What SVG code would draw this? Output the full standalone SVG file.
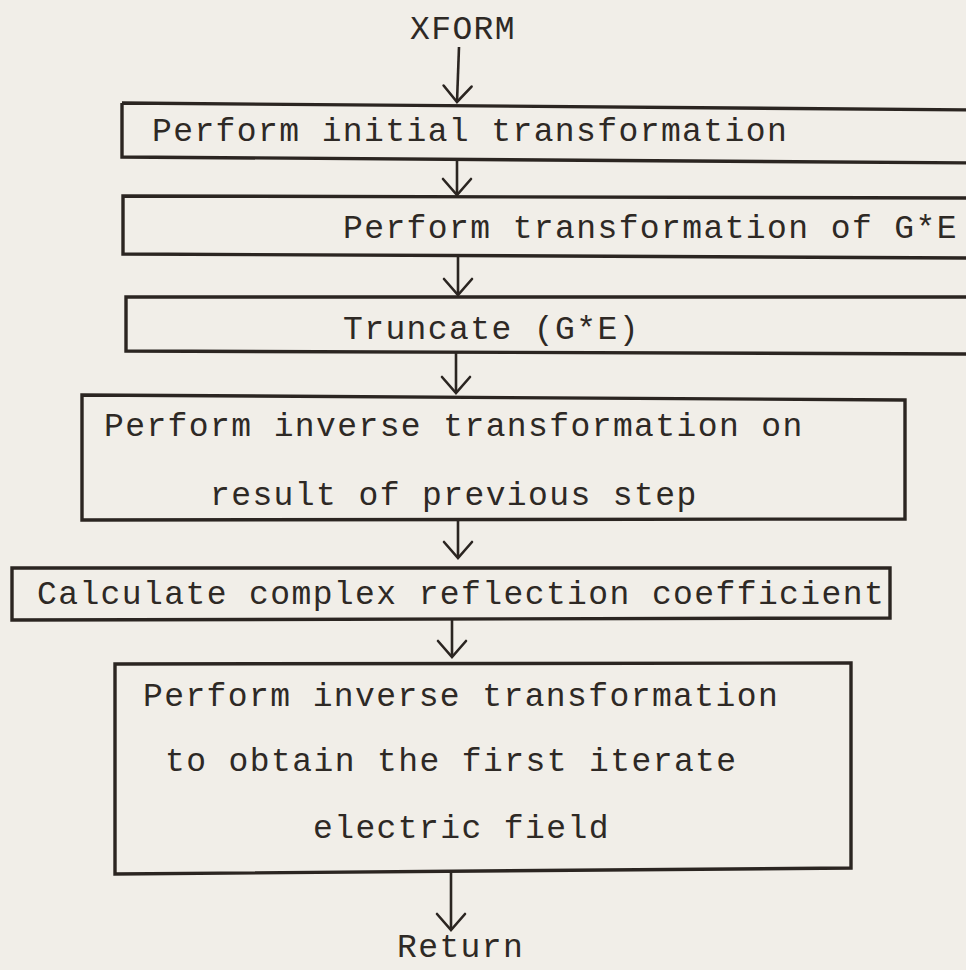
<svg xmlns="http://www.w3.org/2000/svg" width="966" height="970" viewBox="0 0 966 970">
<style>
.bg{fill:#f1eee8}
.box{fill:none;stroke:#2b2521;stroke-width:3.4;stroke-linejoin:miter}
.t{font-family:"Liberation Mono","Courier New",monospace;font-size:33px;letter-spacing:1.4px;fill:#2e2925}
.c{fill:none;stroke:#2b2521;stroke-width:2.6}
</style>
<defs>
<marker id="v" markerUnits="userSpaceOnUse" markerWidth="40" markerHeight="40" refX="0" refY="0" viewBox="-20 -20 40 40" orient="auto" overflow="visible">
<path d="M-16,-14 L0,0 L-16,14" fill="none" stroke="#2b2521" stroke-width="2.6" stroke-linecap="round" stroke-linejoin="miter"/>
</marker>
</defs>
<rect class="bg" x="0" y="0" width="966" height="970"/>
<g id="start">
<text class="t" x="410" y="39">XFORM</text>
</g>
<g id="n1">
<path class="box" d="M122,103 L980,110 M122,103 L122,157 L980,163"/>
<text class="t" x="152" y="141">Perform initial transformation</text>
</g>
<g id="n2">
<path class="box" d="M980,198 L123,196 L123,254 L980,258"/>
<text class="t" x="343" y="238">Perform transformation of G*E</text>
</g>
<g id="n3">
<path class="box" d="M980,297 L126,297 L126,351 L980,354"/>
<text class="t" x="343" y="339">Truncate (G*E)</text>
</g>
<g id="n4">
<path class="box" d="M82,395 L905,400 L905,519 L82,520 Z"/>
<text class="t" x="104" y="436">Perform inverse transformation on</text>
<text class="t" x="210" y="505">result of previous step</text>
</g>
<g id="n5">
<path class="box" d="M12,568 L890,568 L890,618 L12,620 Z"/>
<text class="t" x="37" y="604">Calculate complex reflection coefficient</text>
</g>
<g id="n6">
<path class="box" d="M115,664 L851,663 L851,868 L115,874 Z"/>
<text class="t" x="143" y="706">Perform inverse transformation</text>
<text class="t" x="165" y="771">to obtain the first iterate</text>
<text class="t" x="313" y="838">electric field</text>
</g>
<g id="end">
<text class="t" x="397" y="957">Return</text>
</g>
<g id="connectors">
<path class="c" d="M459,47 L457,102" marker-end="url(#v)"/>
<path class="c" d="M457,161 L457,195" marker-end="url(#v)"/>
<path class="c" d="M458,257 L458,295" marker-end="url(#v)"/>
<path class="c" d="M456,353 L456,393" marker-end="url(#v)"/>
<path class="c" d="M458,520 L458,558" marker-end="url(#v)"/>
<path class="c" d="M452,620 L452,657" marker-end="url(#v)"/>
<path class="c" d="M451,872 L451,930" marker-end="url(#v)"/>
</g>
</svg>
